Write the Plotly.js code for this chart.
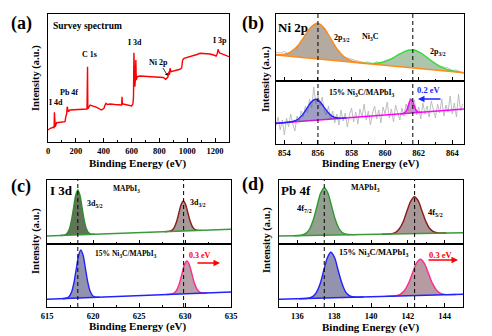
<!DOCTYPE html>
<html><head><meta charset="utf-8">
<script src="https://cdn.plot.ly/plotly-3.0.1.min.js"></script>
<style>html,body{margin:0;padding:0;background:#fff}#chart{width:492px;height:336px}</style>
</head><body><div id="chart"></div>
<script>
// ---------- (a) survey spectrum ----------
const surveyX = [0,17,38,44,46,48,52,62,90,122,129,134,138,141,146,158,200,240,266,280,284,286,290,302,330,350,385,402,410,416,426,445,480,529,532,534,540,570,600,610,614,617,619,621,624,628,631,634,641,660,700,740,780,828,845,860,866,869,872,876,883,920,948,960,967,977,1010,1044,1070,1092,1130,1164,1190,1207,1215,1222,1226,1232,1241,1270,1300];
const surveyY = [12,13.7,14.7,14.5,29.7,16,15.3,19.3,19.5,20.3,26,28,35.3,31,30.3,32,32.3,32.5,32.7,33,75.3,33.5,33.7,37,35.5,34.7,32,33.7,37,38.7,37.5,38,37.5,37,45.3,38,38,37,36,38,45,89.3,60,70,55.3,64,82,62,65.3,66,65.5,65,64.7,64.5,62.7,64.7,68,70.3,67,73.7,70.3,71.5,72.7,74,82,83.7,85,86,87.5,88.7,88.5,88,87,86,88,92.7,91,89,88.7,87,85.3];

// ---------- (b) Ni 2p ----------
const niTopRawY = [28.5,28,29.5,27,31.5,33,40.5,45.5,53,56,58,55.5,49,43.5,35,30,24.5,23,21.5,20.5,19.5,18.5,19,17,19,18,20.5,21.5,23,26.5,28,30.5,31,31.5,29,27,23.5,20.5,17.5,15,14,13,10.5,11,9];
const niTopBaseX = [853.5, 864.7];
const niTopBaseY = [26, 8.3];
const niTopP1X = [853.5,853.64,854.03,854.42,854.81,855.2,855.59,855.98,856.37,856.76,857.15,857.54,857.93,858.32,858.9];
const niTopP1Y = [26.0,26.2,26.7,29.4,35.5,44.9,54.1,57.7,52.9,42.4,31.8,24.4,20.6,18.8,17.5];
const niTopP2X = [858.6,858.86,859.33,859.79,860.26,860.72,861.19,861.65,862.12,862.58,863.05,863.51,863.98,864.44,864.7];
const niTopP2Y = [17.9,17.7,17.6,18.5,21.1,25.5,29.7,31.0,28.2,22.5,16.7,12.6,10.2,8.9,8.3];

const niBotRawY = [18,27,14,24,9,26,17,30,20,13,28,22,33,27,38,31,45,36,57,40,50,38,47,33,29,38,24,33,21,30,19,34,23,31,17,29,36,22,32,20,35,27,40,24,33,19,31,38,25,34,21,37,30,42,26,35,22,39,31,24,36,28,40,33,46,38,44,29,37,25,41,30,38,27,43,34,26,40,31,45,28,39,32,48,30,41,27,50,33,40];
const niBotBaseX = [853.5, 864.7];
const niBotBaseY = [20.7, 35.0];
const niBotP1X = [853.5,854.35,854.6,854.85,855.1,855.35,855.6,855.85,856.1,856.35,856.6,856.85,857.1,857.35,857.7];
const niBotP1Y = [20.7,22.0,23.0,25.3,29.6,35.8,41.9,44.7,42.6,37.1,31.5,27.8,26.2,25.9,26.1];
const niBotP2X = [860.9,861.07,861.15,861.23,861.31,861.39,861.47,861.55,861.63,861.71,861.79,861.87,861.95,862.03,862.2];
const niBotP2Y = [30.2,30.5,31.1,32.4,35.1,39.1,43.0,44.7,43.2,39.5,35.7,33.2,32.1,31.7,31.8];
const niRefLines = [856.0, 861.65];

// ---------- (c) I 3d ----------
const i3dTopBaseX = [615, 635];
const i3dTopBaseY = [8, 14.7];
const i3dTop52X = [616.5,616.97,617.2,617.43,617.66,617.89,618.12,618.35,618.58,618.81,619.04,619.27,619.5,619.73,620.2];
const i3dTop52Y = [8.5,9.2,10.7,14.9,23.5,36.2,48.7,54.0,48.8,36.5,23.9,15.5,11.5,10.1,9.7];
const i3dTop32X = [627.8,628.35,628.6,628.84,629.09,629.33,629.58,629.82,630.07,630.31,630.56,630.8,631.05,631.29,631.8];
const i3dTop32Y = [12.3,12.8,13.9,16.7,22.5,31.0,39.4,43.0,39.5,31.3,23.0,17.4,14.7,13.8,13.6];
const i3dBotBaseX = [615, 635];
const i3dBotBaseY = [7.7, 15];
const i3dBot52X = [616.7,617.18,617.43,617.68,617.93,618.18,618.43,618.68,618.93,619.18,619.43,619.68,619.93,620.18,620.7];
const i3dBot52Y = [8.3,9.0,10.7,15.2,24.4,38.0,51.3,57.0,51.5,38.3,24.9,15.9,11.6,10.1,9.8];
const i3dBot32X = [628.0,628.58,628.85,629.12,629.39,629.66,629.93,630.2,630.47,630.74,631.01,631.28,631.55,631.82,632.4];
const i3dBot32Y = [12.45,13.0,14.2,17.3,23.6,32.9,42.1,46.0,42.3,33.3,24.2,18.1,15.2,14.2,14.05];
const i3dRefLines = [618.35, 629.85];

// ---------- (d) Pb 4f ----------
const pbTopBaseX = [135, 145];
const pbTopBaseY = [8, 11.3];
const pbTop72X = [135.8,136.26,136.46,136.66,136.86,137.06,137.26,137.46,137.66,137.86,138.06,138.26,138.46,138.66,139.2];
const pbTop72Y = [8.26,9.0,10.6,15.0,24.0,37.5,50.7,56.3,50.8,37.8,24.4,15.5,11.2,9.7,9.4];
const pbTop52X = [140.6,141.13,141.34,141.54,141.75,141.95,142.16,142.36,142.57,142.77,142.98,143.18,143.39,143.59,144.1];
const pbTop52Y = [9.85,10.4,11.7,15.2,22.2,32.7,42.9,47.3,43.1,33.0,22.6,15.7,12.4,11.3,11.0];
const pbBotBaseX = [135, 145];
const pbBotBaseY = [7.7, 12.7];
const pbBot72X = [136.1,136.65,136.85,137.04,137.24,137.43,137.63,137.82,138.02,138.21,138.41,138.6,138.8,138.99,139.6];
const pbBot72Y = [8.25,9.0,10.6,14.9,23.6,36.6,49.3,54.7,49.5,37.0,24.2,15.7,11.6,10.2,10.0];
const pbBot52X = [140.8,141.36,141.58,141.8,142.02,142.24,142.46,142.68,142.9,143.12,143.34,143.56,143.78,144.0,144.6];
const pbBot52Y = [10.6,11.3,12.6,16.0,23.0,33.3,43.4,47.7,43.6,33.7,23.6,16.9,13.7,12.6,12.5];
const pbRefLines = [137.46, 142.37];

// ---------- build ----------
const W = 492, H = 336;
const FONT = 'Liberation Serif, Times New Roman, serif';
const fx = px => px / W, fy = py => 1 - py / H;

function line(x, y, xa, ya, color, w) {
  return {x, y, xaxis: xa, yaxis: ya, mode: 'lines', line: {color, width: w || 1.4}, hoverinfo: 'skip'};
}
function peak(x, y, xa, ya, color, fill) {
  return {x, y, xaxis: xa, yaxis: ya, mode: 'lines', fill: 'toself', fillcolor: fill,
          line: {color, width: 1.4, shape: 'spline', smoothing: 0.8}, hoverinfo: 'skip'};
}
function noise(y, x0, dx, xa, ya) {
  return {y, x0, dx, xaxis: xa, yaxis: ya, mode: 'lines', line: {color: '#b8b8b8', width: 0.9}, hoverinfo: 'skip'};
}

const traces = [
  line(surveyX, surveyY, 'x', 'y', '#ff0000', 1.4),
  // b top
  noise(niTopRawY, 853.5, 0.25, 'x3', 'y3'),
  peak(niTopP1X, niTopP1Y, 'x3', 'y3', '#ff8c1a', 'rgba(120,100,80,0.55)'),
  peak(niTopP2X, niTopP2Y, 'x3', 'y3', '#33e033', 'rgba(90,140,90,0.5)'),
  line(niTopBaseX, niTopBaseY, 'x3', 'y3', '#ff8c1a', 1.4),
  // b bottom
  noise(niBotRawY, 853.5, 0.125, 'x2', 'y2'),
  line(niBotBaseX, niBotBaseY, 'x2', 'y2', '#ff00ff', 1.4),
  peak(niBotP1X, niBotP1Y, 'x2', 'y2', '#2222ff', 'rgba(80,80,150,0.55)'),
  peak(niBotP2X, niBotP2Y, 'x2', 'y2', '#ff00ff', 'rgba(160,80,160,0.6)'),
  // c top
  peak(i3dTop52X, i3dTop52Y, 'x5', 'y5', '#2e8b2e', 'rgba(70,90,60,0.85)'),
  peak(i3dTop32X, i3dTop32Y, 'x5', 'y5', '#8b1a1a', 'rgba(130,110,110,0.7)'),
  line(i3dTopBaseX, i3dTopBaseY, 'x5', 'y5', '#3a9a3a', 1.4),
  // c bottom
  peak(i3dBot52X, i3dBot52Y, 'x4', 'y4', '#2222ff', 'rgba(110,110,150,0.75)'),
  peak(i3dBot32X, i3dBot32Y, 'x4', 'y4', '#ff2a8a', 'rgba(160,130,140,0.75)'),
  line(i3dBotBaseX, i3dBotBaseY, 'x4', 'y4', '#2222ff', 1.4),
  // d top
  peak(pbTop72X, pbTop72Y, 'x7', 'y7', '#2e9a2e', 'rgba(120,135,115,0.8)'),
  peak(pbTop52X, pbTop52Y, 'x7', 'y7', '#8b1a1a', 'rgba(140,115,115,0.75)'),
  line(pbTopBaseX, pbTopBaseY, 'x7', 'y7', '#3a9a3a', 1.4),
  // d bottom
  peak(pbBot72X, pbBot72Y, 'x6', 'y6', '#2222ff', 'rgba(120,120,155,0.8)'),
  peak(pbBot52X, pbBot52Y, 'x6', 'y6', '#ff2a8a', 'rgba(165,130,140,0.8)'),
  line(pbBotBaseX, pbBotBaseY, 'x6', 'y6', '#2222ff', 1.4)
];

const tickFont = {family: FONT, size: 8.5, color: '#000', weight: 'bold'};
const frame = {showline: true, linecolor: '#000', linewidth: 1.3, mirror: true, showgrid: false, zeroline: false};
function xax(dom, range, anchor, dtick, tick0, minor, labels) {
  return Object.assign({}, frame, {domain: dom, range, anchor, dtick, tick0, ticks: 'inside', ticklen: 4,
    tickwidth: 1, tickcolor: '#000', tickfont: tickFont, showticklabels: labels,
    minor: {dtick: minor, ticks: 'inside', ticklen: 2.5, tickcolor: '#000'}});
}
function yax(dom, range, anchor) {
  return Object.assign({}, frame, {domain: dom, range, anchor, showticklabels: false, ticks: ''});
}

const layout = {
  width: W, height: H, margin: {l: 0, r: 0, t: 0, b: 0},
  paper_bgcolor: '#fff', plot_bgcolor: 'rgba(0,0,0,0)', showlegend: false,
  xaxis: xax([fx(48), fx(229)], [0, 1300], 'y', 200, 0, 100, true),
  yaxis: yax([fy(142), fy(14)], [0, 128], 'x'),
  xaxis2: xax([fx(276), fx(464)], [853.5, 864.7], 'y2', 2, 854, 1, true),
  yaxis2: yax([fy(144), fy(81)], [0, 63], 'x2'),
  xaxis3: xax([fx(276), fx(464)], [853.5, 864.7], 'y3', 2, 854, 1, false),
  yaxis3: yax([fy(81), fy(14)], [0, 67], 'x3'),
  xaxis4: xax([fx(47), fx(231)], [615, 635], 'y4', 5, 615, 2.5, true),
  yaxis4: yax([fy(307), fy(244)], [0, 63], 'x4'),
  xaxis5: xax([fx(47), fx(231)], [615, 635], 'y5', 5, 615, 2.5, false),
  yaxis5: yax([fy(244), fy(180)], [0, 64], 'x5'),
  xaxis6: xax([fx(279), fx(463)], [135, 145], 'y6', 2, 136, 1, true),
  yaxis6: yax([fy(307), fy(244)], [0, 63], 'x6'),
  xaxis7: xax([fx(279), fx(463)], [135, 145], 'y7', 2, 136, 1, false),
  yaxis7: yax([fy(244), fy(180)], [0, 64], 'x7'),
  shapes: [], annotations: []
};

function vdash(vals, xref, top, bot) {
  vals.forEach(v => layout.shapes.push({type: 'line', xref, yref: 'paper', x0: v, x1: v,
    y0: fy(bot), y1: fy(top), line: {color: '#000', width: 1, dash: '4px,3px'}}));
}
vdash(niRefLines, 'x2', 14, 144);
vdash(i3dRefLines, 'x4', 180, 307);
vdash(pbRefLines, 'x6', 180, 307);

function txt(text, px, py, size, opts) {
  opts = opts || {};
  layout.annotations.push({text: '<b>' + text + '</b>', x: fx(px), y: fy(py), xref: 'paper', yref: 'paper',
    showarrow: false, xanchor: opts.anchor || 'center', yanchor: 'middle', textangle: opts.angle || 0,
    font: {family: FONT, size, color: opts.color || '#000'}});
}
function arrow(hx, hy, tx, ty, color, size, head, w) {
  layout.annotations.push({text: '', x: fx(hx), y: fy(hy), xref: 'paper', yref: 'paper', showarrow: true,
    ax: tx - hx, ay: ty - hy, arrowcolor: color, arrowwidth: w || 1.3, arrowhead: head || 2, arrowsize: size || 1});
}

// (a)
txt('(a)', 21, 24, 18);
txt('Survey spectrum', 51, 26, 9.5, {anchor: 'left'});
txt('I 4d', 55.5, 102, 8);
txt('Pb 4f', 68.5, 92, 8);
txt('C 1s', 89, 54.5, 8);
txt('I 3d', 134.5, 42.5, 8);
txt('Ni 2p', 158, 62, 8);
arrow(167.5, 75.5, 162, 66.5, '#000', 0.8, 1, 0.8);
txt('I 3p', 220, 40.5, 8);
txt('Intensity (a.u.)', 36, 78, 10.5, {angle: -90});
txt('Binding Energy (eV)', 138, 163, 11);
// (b)
txt('(b)', 253, 24, 18);
txt('Ni 2p', 293, 27, 13);
txt('2p<sub>3/2</sub>', 341.5, 38, 8);
txt('Ni<sub>3</sub>C', 370, 37, 8);
txt('2p<sub>3/2</sub>', 437.5, 52, 8);
txt('15% Ni<sub>3</sub>C/MAPbI<sub>3</sub>', 362, 93, 8);
txt('0.2 eV', 428.5, 90, 8.5, {color: '#2222ff'});
arrow(418, 99, 442, 99, '#2222ff');
txt('Intensity (a.u.)', 266, 79, 10.5, {angle: -90});
txt('Binding Energy (eV)', 370.5, 163, 11);
// (c)
txt('(c)', 21, 186, 18);
txt('I 3d', 61, 190, 13);
txt('MAPbI<sub>3</sub>', 126.5, 189, 7.5);
txt('3d<sub>5/2</sub>', 95, 204, 8);
txt('3d<sub>3/2</sub>', 198, 203, 8);
txt('15% Ni<sub>3</sub>C/MAPbI<sub>3</sub>', 126, 254, 7.5);
txt('0.3 eV', 200, 255, 8, {color: '#ff0000'});
arrow(220, 263, 196, 263, '#ff0000');
txt('Intensity (a.u.)', 36, 241, 10.5, {angle: -90});
txt('Binding Energy (eV)', 138, 326, 11);
// (d)
txt('(d)', 253, 184, 18);
txt('Pb 4f', 295.5, 190, 13);
txt('MAPbI<sub>3</sub>', 365, 188, 8);
txt('4f<sub>7/2</sub>', 304.5, 208, 8.5);
txt('4f<sub>5/2</sub>', 435.5, 212.5, 8.5);
txt('15% Ni<sub>3</sub>C/MAPbI<sub>3</sub>', 373.5, 252, 8.5);
txt('0.3 eV', 440.5, 254.5, 8.5, {color: '#ff0000'});
arrow(458, 260, 427, 260, '#ff0000');
txt('Intensity (a.u.)', 267, 240, 10.5, {angle: -90});
txt('Binding Energy (eV)', 370.5, 327, 11);

Plotly.newPlot('chart', traces, layout, {staticPlot: true, displayModeBar: false});
</script></body></html>
